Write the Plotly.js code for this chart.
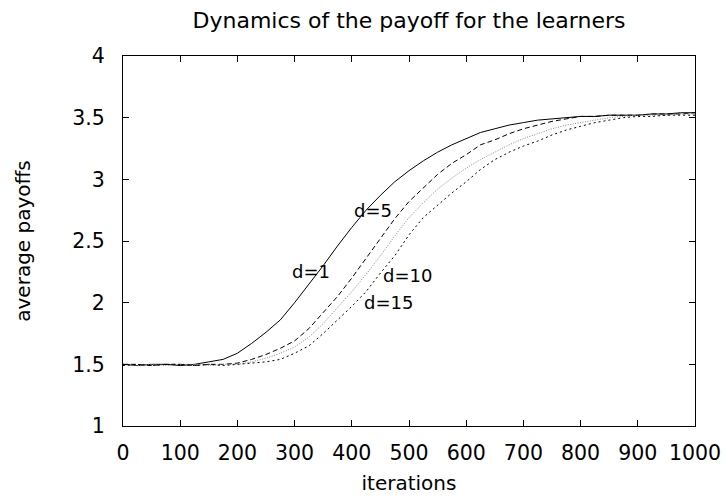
<!DOCTYPE html>
<html>
<head>
<meta charset="utf-8">
<script src="https://cdn.plot.ly/plotly-3.0.1.min.js"></script>
<style>html,body{margin:0;padding:0;background:#fff;}#chart{width:725px;height:498px;}</style>
</head>
<body>
<div id="chart"></div>
<script>
const iterations = [0,25,50,75,100,125,150,175,200,225,250,275,300,325,350,375,400,425,450,475,500,525,550,575,600,625,650,675,700,725,750,775,800,825,850,875,900,925,950,975,1000];
const payoffD1  = [1.50,1.49,1.50,1.50,1.49,1.50,1.52,1.54,1.59,1.67,1.76,1.86,2.00,2.15,2.30,2.46,2.61,2.75,2.87,2.98,3.07,3.15,3.22,3.28,3.33,3.38,3.41,3.44,3.46,3.48,3.49,3.50,3.51,3.51,3.52,3.52,3.52,3.53,3.53,3.54,3.54];
const payoffD5  = [1.50,1.50,1.49,1.50,1.50,1.49,1.50,1.50,1.51,1.54,1.58,1.63,1.69,1.79,1.92,2.05,2.20,2.36,2.52,2.68,2.82,2.93,3.04,3.13,3.20,3.28,3.32,3.37,3.41,3.44,3.47,3.49,3.51,3.51,3.52,3.52,3.52,3.53,3.53,3.53,3.54];
const payoffD10 = [1.50,1.49,1.50,1.49,1.50,1.50,1.49,1.50,1.50,1.52,1.55,1.59,1.64,1.72,1.83,1.96,2.09,2.23,2.38,2.54,2.69,2.81,2.92,3.01,3.09,3.16,3.22,3.28,3.33,3.37,3.41,3.44,3.46,3.48,3.50,3.51,3.52,3.52,3.52,3.53,3.53];
const payoffD15 = [1.49,1.50,1.49,1.50,1.50,1.49,1.50,1.49,1.50,1.51,1.52,1.54,1.59,1.65,1.75,1.86,1.97,2.09,2.24,2.38,2.55,2.69,2.79,2.89,2.98,3.08,3.16,3.22,3.27,3.31,3.36,3.40,3.43,3.46,3.48,3.50,3.51,3.51,3.52,3.52,3.52];
const seriesNames = ["d=1","d=5","d=10","d=15"];
const labelX = [329,437,497,465];
const labelY = [2.25,2.75,2.22,2.00];
const xTicks = [0,100,200,300,400,500,600,700,800,900,1000];
const yTicks = [1,1.5,2,2.5,3,3.5,4];

const FONT = 'DejaVu Sans, sans-serif';
const styles = [
  {color:'#000', dash:'solid', width:1},
  {color:'#000', dash:'5px,3px', width:1},
  {color:'#888', dash:'1px,1.5px', width:1},
  {color:'#000', dash:'2px,3px', width:1}
];
const ys = [payoffD1,payoffD5,payoffD10,payoffD15];
const traces = ys.map((y,i)=>({
  x: iterations, y: y, type:'scatter', mode:'lines', name: seriesNames[i],
  line: {color: styles[i].color, dash: styles[i].dash, width: styles[i].width},
  showlegend:false, hoverinfo:'skip'
}));
const annotations = seriesNames.map((n,i)=>({
  x: labelX[i], y: labelY[i], xref:'x', yref:'y', text: n, showarrow:false,
  font:{family:FONT, size:18, color:'#000'}
}));
const axisCommon = {
  showgrid:false, zeroline:false, showline:true, linecolor:'#000', linewidth:1,
  mirror:'allticks', ticks:'inside', ticklen:6, tickcolor:'#000', tickwidth:1,
  tickfont:{family:FONT, size:20.5, color:'#000'}
};
const layout = {
  width:725, height:498,
  margin:{l:123, r:30, t:56, b:72, pad:0},
  paper_bgcolor:'#fff', plot_bgcolor:'#fff',
  font:{family:FONT, color:'#000'},
  title:{text:'Dynamics of the payoff for the learners', x:0.5, xref:'paper', y:1-20/498, yanchor:'middle',
         font:{family:FONT, size:22, color:'#000'}},
  xaxis: Object.assign({}, axisCommon, {range:[0,1000], tickvals:xTicks, ticktext:xTicks.map(String),
         ticklabelstandoff:8,
         title:{text:'iterations', standoff:12, font:{family:FONT, size:20, color:'#000'}}}),
  yaxis: Object.assign({}, axisCommon, {range:[1,4], tickvals:yTicks, ticktext:yTicks.map(String),
         ticklabelstandoff:13,
         title:{text:'average payoffs', standoff:36, font:{family:FONT, size:20, color:'#000'}}}),
  annotations: annotations
};
Plotly.newPlot('chart', traces, layout, {staticPlot:true, displayModeBar:false});
</script>
</body>
</html>
